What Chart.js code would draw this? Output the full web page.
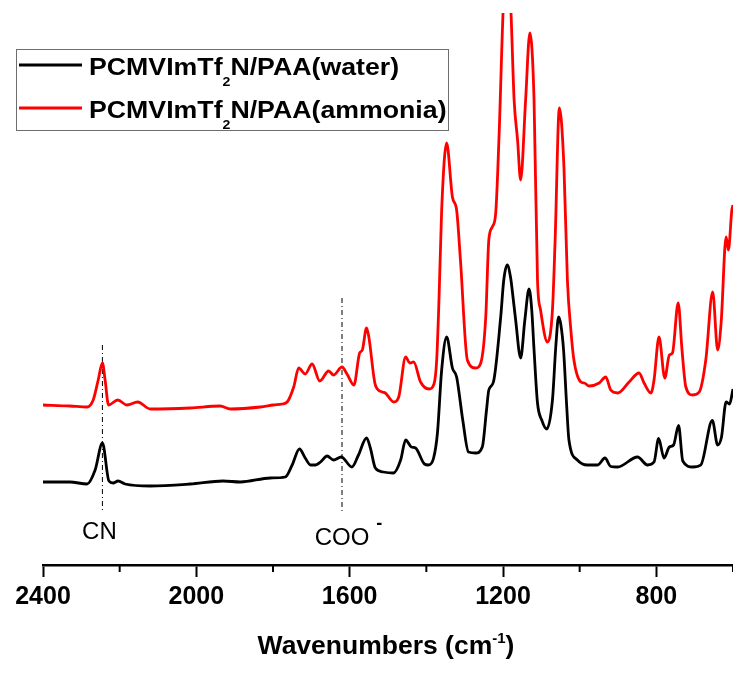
<!DOCTYPE html>
<html>
<head>
<meta charset="utf-8">
<script src="https://cdn.jsdelivr.net/npm/chart.js@4.4.1/dist/chart.umd.min.js"></script>
<style>
  html, body { margin: 0; padding: 0; background: #fff; }
  #wrap { width: 733px; height: 674px; position: relative; }
</style>
</head>
<body>
<div id="wrap"><canvas id="ftir"></canvas></div>
<script>
// spectra (wavenumber, cm-1 / intensity, arb. units)
var waterWn = [2400, 2330, 2285, 2264, 2245, 2228, 2217, 2204, 2186, 2120, 2016, 1930, 1885, 1807, 1768, 1750, 1731, 1716, 1702, 1689,
  1676, 1659, 1642, 1622, 1594, 1577, 1556, 1546, 1533, 1512, 1486, 1467, 1454, 1439, 1428, 1405, 1394, 1381, 1371, 1360,
  1347, 1332, 1321, 1305, 1290, 1271, 1254, 1243, 1237, 1225, 1206, 1198, 1189, 1180, 1176, 1167, 1154, 1143, 1132, 1125,
  1119, 1110, 1099, 1086, 1071, 1062, 1055, 1049, 1042, 1034, 1028, 1006, 980, 953, 934, 919, 901, 849, 823, 806,
  794, 780, 766, 755, 742, 731, 705, 684, 654, 640, 630, 618, 609, 600];
var waterAbs = [0.83, 0.83, 0.81, 0.95, 1.22, 0.84, 0.82, 0.84, 0.81, 0.79, 0.81, 0.84, 0.83, 0.87, 0.88, 1.00, 1.16, 1.07, 1.00, 1.00,
  1.03, 1.09, 1.05, 1.08, 0.98, 1.10, 1.27, 1.17, 0.97, 0.93, 0.92, 1.05, 1.25, 1.18, 1.17, 1.01, 1.00, 1.07, 1.32, 1.95,
  2.28, 1.97, 1.88, 1.45, 1.13, 1.12, 1.18, 1.55, 1.75, 1.83, 2.48, 2.85, 3.00, 2.87, 2.75, 2.45, 2.07, 2.45, 2.76, 2.55,
  2.15, 1.62, 1.45, 1.36, 1.65, 2.20, 2.48, 2.40, 2.15, 1.60, 1.25, 1.05, 1.00, 1.00, 1.07, 0.985, 0.98, 1.08, 1.00, 1.03,
  1.265, 1.07, 1.18, 1.20, 1.395, 1.04, 0.98, 1.00, 1.445, 1.20, 1.28, 1.63, 1.61, 1.76];

var ammoniaWn = [2400, 2330, 2285, 2269, 2256, 2245, 2238, 2229, 2205, 2181, 2153, 2120, 2016, 1938, 1911, 1833, 1799, 1776, 1763, 1746,
  1733, 1716, 1698, 1678, 1655, 1642, 1620, 1607, 1589, 1574, 1567, 1556, 1550, 1533, 1515, 1507, 1485, 1472, 1454, 1443,
  1433, 1415, 1393, 1380, 1373, 1367, 1360, 1347, 1332, 1321, 1311, 1293, 1271, 1258, 1245, 1237, 1228, 1219, 1210, 1199,
  1189, 1180, 1171, 1162, 1154, 1141, 1130, 1119, 1110, 1102, 1084, 1071, 1064, 1053, 1041, 1032, 1023, 1015, 997, 988,
  975, 949, 932, 919, 901, 871, 845, 832, 814, 806, 793, 778, 766, 758, 743, 733, 723, 705, 688, 671,
  653, 640, 631, 618, 612, 603, 600];
var ammoniaAbs = [1.60, 1.59, 1.58, 1.65, 1.85, 2.02, 1.85, 1.60, 1.65, 1.60, 1.63, 1.56, 1.57, 1.59, 1.56, 1.58, 1.60, 1.61, 1.63, 1.78,
  1.97, 1.91, 2.01, 1.84, 1.94, 1.90, 1.98, 1.91, 1.80, 2.12, 2.15, 2.37, 2.28, 1.80, 1.73, 1.72, 1.63, 1.68, 2.08, 2.02,
  2.03, 1.83, 1.76, 1.81, 2.05, 2.65, 3.55, 4.22, 3.68, 3.55, 3.05, 2.05, 1.97, 2.02, 2.48, 3.25, 3.38, 3.52, 4.32, 5.60,
  6.00, 5.60, 4.65, 4.25, 3.85, 4.65, 5.32, 4.65, 2.85, 2.55, 2.23, 2.55, 3.25, 4.57, 3.98, 2.85, 2.35, 2.05, 1.83, 1.82,
  1.79, 1.82, 1.88, 1.75, 1.72, 1.83, 1.92, 1.82, 1.72, 1.85, 2.28, 1.87, 2.10, 2.12, 2.62, 2.15, 1.78, 1.70, 1.73, 2.05,
  2.73, 2.15, 2.42, 3.28, 3.15, 3.55, 3.60];

// band markers (dash-dot lines) and their labels
var markerWn = [2245, 1620];
var markerTop = [2.20, 2.67];
var markerBottom = [0.52, 0.52];
var markerText = ['CN', 'COO'];
var markerSup = ['', '-'];

var legendNames = [['PCMVImTf', '2', 'N/PAA(water)'], ['PCMVImTf', '2', 'N/PAA(ammonia)']];
var xMin = 600, xMax = 2400;
var majorStep = 400, minorStep = 200;

var FONT = "'Liberation Sans', Arial, sans-serif";

function toPoints(xs, ys) {
  var out = [];
  for (var i = 0; i < xs.length; i++) out.push({ x: xs[i], y: ys[i] });
  return out;
}

// draws text pieces one after another, each with its own size and baseline shift
// sx stretches the text sideways (the original lettering is a bit wider than Liberation)
function drawPieces(ctx, x, y, pieces, sx) {
  sx = sx || 1;
  var cx = 0;
  ctx.save();
  ctx.translate(x, y);
  ctx.scale(sx, 1);
  pieces.forEach(function (p) {
    ctx.font = p.weight + ' ' + p.size + 'px ' + FONT;
    ctx.fillText(p.t, cx, p.dy);
    cx += ctx.measureText(p.t).width;
  });
  ctx.restore();
  return cx * sx;
}

function measurePieces(ctx, pieces, sx) {
  var w = 0;
  pieces.forEach(function (p) {
    ctx.font = p.weight + ' ' + p.size + 'px ' + FONT;
    w += ctx.measureText(p.t).width;
  });
  return w * (sx || 1);
}

var decor = {
  id: 'decor',
  afterDraw: function (chart) {
    var ctx = chart.ctx, xs = chart.scales.x, area = chart.chartArea;
    ctx.save();
    ctx.fillStyle = '#000';
    ctx.strokeStyle = '#000';
    ctx.textAlign = 'left';
    ctx.textBaseline = 'alphabetic';

    // minor ticks
    ctx.lineWidth = 2;
    for (var v = xMin; v <= xMax; v += minorStep) {
      if (v % majorStep === 0) continue;
      var px = xs.getPixelForValue(v);
      ctx.beginPath();
      ctx.moveTo(px, area.bottom);
      ctx.lineTo(px, area.bottom + 7);
      ctx.stroke();
    }

    // band labels
    var baseY = [539, 545];
    var shift = [-3, 0];
    for (var i = 0; i < markerText.length; i++) {
      ctx.font = '24px ' + FONT;
      var w = ctx.measureText(markerText[i]).width;
      var cx = xs.getPixelForValue(markerWn[i]) + shift[i];
      var left = cx - w / 2;
      ctx.fillText(markerText[i], left, baseY[i]);
      if (markerSup[i]) {
        ctx.font = 'bold 18px ' + FONT;
        ctx.fillText(markerSup[i], left + w + 7, baseY[i] - 16);
      }
    }

    // axis title with superscript
    var title = [
      { t: 'Wavenumbers (cm', size: 26.5, dy: 0, weight: 'bold' },
      { t: '-1', size: 15, dy: -11, weight: 'bold' },
      { t: ')', size: 26.5, dy: 0, weight: 'bold' }
    ];
    var tw = measurePieces(ctx, title);
    drawPieces(ctx, 386 - tw / 2, 654, title);

    // legend box
    ctx.lineWidth = 1;
    ctx.strokeStyle = '#6e6e6e';
    ctx.strokeRect(16.5, 49.5, 432, 81);
    var rowsY = [65, 108];
    var baseL = [74.5, 117.5];
    chart.data.datasets.slice(0, 2).forEach(function (ds, k) {
      ctx.strokeStyle = ds.borderColor;
      ctx.lineWidth = 3;
      ctx.beginPath();
      ctx.moveTo(19, rowsY[k]);
      ctx.lineTo(82, rowsY[k]);
      ctx.stroke();
      var n = legendNames[k];
      drawPieces(ctx, 89, baseL[k], [
        { t: n[0], size: 24.5, dy: 0, weight: 'bold' },
        { t: n[1], size: 13, dy: 11, weight: 'bold' },
        { t: n[2], size: 24.5, dy: 0, weight: 'bold' }
      ], 1.09);
    });
    ctx.restore();
  }
};

var datasets = [
  {
    label: 'PCMVImTf\u2082N/PAA(water)',
    data: toPoints(waterWn, waterAbs),
    borderColor: '#000000',
    borderWidth: 2.8,
    pointRadius: 0,
    cubicInterpolationMode: 'monotone'
  },
  {
    label: 'PCMVImTf\u2082N/PAA(ammonia)',
    data: toPoints(ammoniaWn, ammoniaAbs),
    borderColor: '#ff0000',
    borderWidth: 2.8,
    pointRadius: 0,
    cubicInterpolationMode: 'monotone'
  }
];
for (var m = 0; m < markerWn.length; m++) {
  datasets.push({
    label: 'marker ' + markerText[m],
    data: [{ x: markerWn[m], y: markerTop[m] }, { x: markerWn[m], y: markerBottom[m] }],
    borderColor: '#000000',
    borderWidth: 1,
    borderDash: [5, 3, 1, 3],
    pointRadius: 0
  });
}

Chart.defaults.font.family = FONT;
Chart.defaults.color = '#000';

new Chart(document.getElementById('ftir'), {
  type: 'line',
  data: { datasets: datasets },
  options: {
    responsive: true,
    maintainAspectRatio: false,
    animation: false,
    layout: { padding: { left: 43, right: 0, top: 13, bottom: 0 } },
    plugins: {
      legend: { display: false },
      tooltip: { enabled: false }
    },
    scales: {
      x: {
        type: 'linear',
        reverse: true,
        min: xMin,
        max: xMax,
        afterFit: function (s) {
          s.height = 109;
          s.paddingLeft = 0;
          s.paddingRight = 0;
        },
        border: { display: true, color: '#000', width: 2.5 },
        grid: {
          drawOnChartArea: false,
          tickLength: 12,
          tickWidth: 2,
          tickColor: function (c) { return c.tick && c.tick.value % majorStep === 0 ? '#000' : 'rgba(0,0,0,0)'; }
        },
        ticks: {
          stepSize: minorStep,
          autoSkip: false,
          maxRotation: 0,
          padding: 5,
          font: { size: 25, weight: 'bold' },
          callback: function (v) { return v % majorStep === 0 ? String(v) : ''; }
        }
      },
      y: {
        display: false,
        min: 0,
        max: 5.52
      }
    }
  },
  plugins: [decor]
});
</script>
</body>
</html>
